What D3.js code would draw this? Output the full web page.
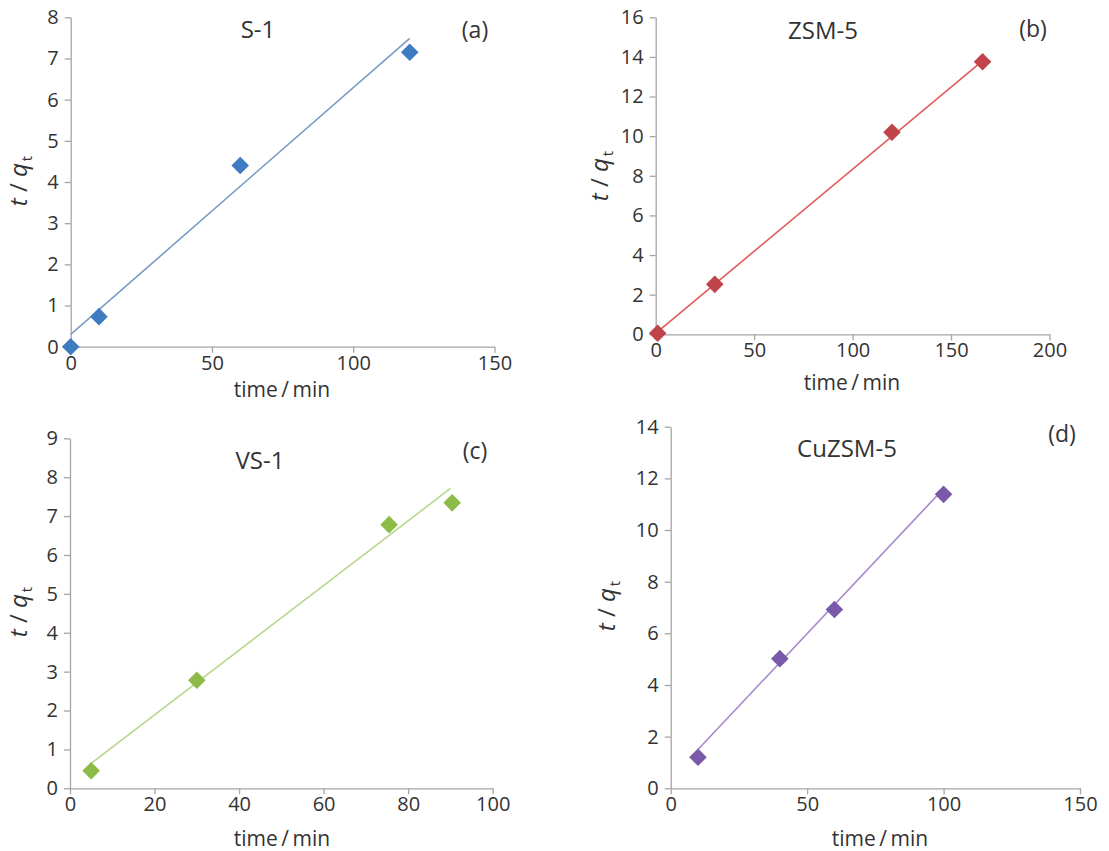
<!DOCTYPE html>
<html>
<head>
<meta charset="utf-8">
<script src="https://cdn.jsdelivr.net/npm/d3@7"></script>
<style>
  body { margin: 0; background: #fff; }
  text { font-family: "Open Sans", Lato, sans-serif; fill: #333; }
  .axis path, .axis line { stroke: #a6a6a6; stroke-width: 1.3; }
  .axis text { font-size: 20px; fill: #333; }
</style>
</head>
<body>
<svg id="chart" width="1109" height="851"></svg>
<script>
// Panel data: time (min) vs t/qt
var s1Time = [0, 10, 60, 120];
var s1Val = [0, 0.73, 4.4, 7.15];
var s1Fit = [[0, 0.3], [120, 7.49]];

var zsmTime = [1, 30, 120, 166];
var zsmVal = [0.05, 2.52, 10.2, 13.76];
var zsmFit = [[0, 0.05], [166, 13.8]];

var vsTime = [5, 30, 75.5, 90.4];
var vsVal = [0.45, 2.78, 6.78, 7.34];
var vsFit = [[5, 0.64], [90, 7.71]];

var cuTime = [10, 40, 60, 100];
var cuVal = [1.2, 5.02, 6.92, 11.38];
var cuFit = [[10, 1.5], [100, 11.6]];

var titles = ["S-1", "ZSM-5", "VS-1", "CuZSM-5"];
var tags = ["(a)", "(b)", "(c)", "(d)"];
var xMax = [150, 200, 100, 150];
var yMax = [8, 16, 9, 14];
var xStep = [50, 50, 20, 50];
var yStep = [1, 2, 1, 2];

var panels = [
  { time: s1Time, val: s1Val, fit: s1Fit, color: "#3f7bc1", line: "#7b9bc6",
    left: 70.7, right: 494.5, top: 17.3, bottom: 346.7,
    title: [258, 38], tag: [475, 38], ylab: [27, 181], xlab: [282, 397] },
  { time: zsmTime, val: zsmVal, fit: zsmFit, color: "#c1444b", line: "#e05a5a",
    left: 655.7, right: 1049.5, top: 17.3, bottom: 334.3,
    title: [823, 39], tag: [1033, 37], ylab: [608, 176], xlab: [852, 390] },
  { time: vsTime, val: vsVal, fit: vsFit, color: "#8cbb48", line: "#b7d78e",
    left: 70, right: 492.7, top: 438.3, bottom: 788.3,
    title: [260, 469], tag: [475, 459], ylab: [27, 612], xlab: [282, 846] },
  { time: cuTime, val: cuVal, fit: cuFit, color: "#7a5aa8", line: "#a888cc",
    left: 670.7, right: 1080, top: 426.7, bottom: 788.3,
    title: [847, 457], tag: [1062, 442], ylab: [615, 606], xlab: [880, 846] }
];

var svg = d3.select("#chart");

panels.forEach(function(p, i) {
  var xScale = d3.scaleLinear().domain([0, xMax[i]]).range([p.left, p.right]);
  var yScale = d3.scaleLinear().domain([0, yMax[i]]).range([p.bottom, p.top]);

  var g = svg.append("g");

  // Axes
  g.append("g")
    .attr("class", "axis")
    .attr("transform", "translate(0," + p.bottom + ")")
    .call(d3.axisBottom(xScale).tickValues(d3.range(0, xMax[i] + 1, xStep[i])).tickSize(6).tickPadding(3).tickSizeOuter(0));

  g.append("g")
    .attr("class", "axis")
    .attr("transform", "translate(" + p.left + ",0)")
    .call(d3.axisLeft(yScale).tickValues(d3.range(0, yMax[i] + 1, yStep[i])).tickSize(6).tickPadding(6).tickSizeOuter(0));

  // Fitted line
  g.append("line")
    .attr("x1", xScale(p.fit[0][0]))
    .attr("y1", yScale(p.fit[0][1]))
    .attr("x2", xScale(p.fit[1][0]))
    .attr("y2", yScale(p.fit[1][1]))
    .attr("stroke", p.line)
    .attr("stroke-width", 1.6);

  // Diamond markers
  var diamond = d3.symbol().type(d3.symbolSquare).size(155);
  g.selectAll(".pt")
    .data(p.time.map(function(t, k) { return [t, p.val[k]]; }))
    .enter().append("path")
    .attr("class", "pt")
    .attr("d", diamond)
    .attr("fill", p.color)
    .attr("transform", function(d) {
      return "translate(" + xScale(d[0]) + "," + yScale(d[1]) + ") rotate(45)";
    });

  // Title and tag
  g.append("text")
    .attr("x", p.title[0]).attr("y", p.title[1])
    .attr("text-anchor", "middle")
    .style("font-size", "24px")
    .text(titles[i]);

  g.append("text")
    .attr("x", p.tag[0]).attr("y", p.tag[1])
    .attr("text-anchor", "middle")
    .style("font-size", "23px")
    .text(tags[i]);

  // y label: t / q_t
  var yl = g.append("text")
    .attr("transform", "translate(" + p.ylab[0] + "," + p.ylab[1] + ") rotate(-90)")
    .attr("text-anchor", "middle")
    .style("font-size", "24px");
  yl.append("tspan").style("font-style", "italic").text("t");
  yl.append("tspan").text(" / ");
  yl.append("tspan").style("font-style", "italic").text("q");
  yl.append("tspan").attr("dx", 2).attr("dy", 5).style("font-size", "15px").text("t");

  // x label
  g.append("text")
    .attr("x", p.xlab[0]).attr("y", p.xlab[1])
    .attr("text-anchor", "middle")
    .style("font-size", "21px")
    .text("time\u2009/\u2009min");
});
</script>
</body>
</html>
